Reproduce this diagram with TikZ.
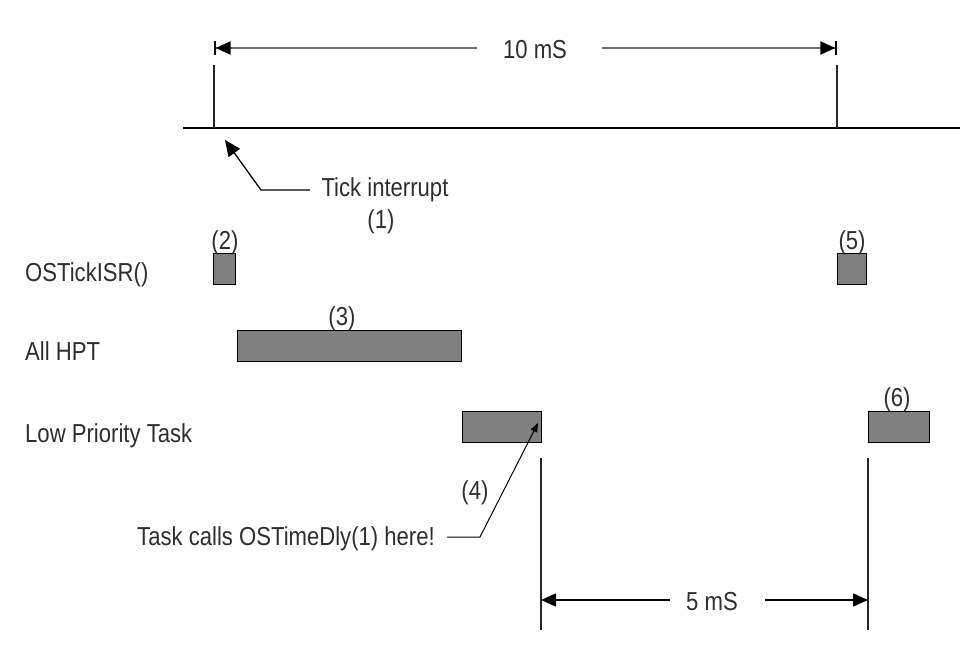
\documentclass[tikz,border=0pt]{standalone}
\usepackage{fontspec}
\setmainfont[FakeStretch=0.85]{Liberation Sans}
\usetikzlibrary{arrows.meta}
\definecolor{txt}{HTML}{2E2E2E}
\definecolor{boxfill}{HTML}{808080}
\definecolor{dimgray}{HTML}{6E6E6E}
\begin{document}
\begin{tikzpicture}[x=1pt,y=-1pt,
  lbl/.style={inner sep=0pt, text=txt, font=\fontsize{26}{30}\selectfont},
  taskbox/.style={draw=black, fill=boxfill, line width=1.4pt, inner sep=0pt, anchor=north west},
  axis/.style={draw=black, line width=1.4pt},
  tickline/.style={draw=black!85, line width=1.4pt},
  topdim/.style={draw=dimgray, line width=2pt, -{Triangle[length=15pt,width=13pt,color=black,fill=black]Bar[width=14pt,line width=1.6pt,color=black]}},
  botdim/.style={draw=black, line width=1.6pt, -{Triangle[length=15pt,width=13pt]}},
  ptr/.style={draw=black, line width=1.3pt, -{Triangle[length=16pt,width=14pt]}},
  smallptr/.style={draw=black, line width=1pt, -{Triangle[length=9pt,width=7pt]}}
]
\useasboundingbox (0,0) rectangle (975,652);
\fill[white] (0,0) rectangle (975,652);

% top time axis
\coordinate (axL) at (183,128);
\coordinate (axR) at (960,128);
\draw[axis] (axL) -- (axR);
\coordinate (tk1top) at (214,65);
\coordinate (tk1bot) at (214,128);
\coordinate (tk2top) at (837,65);
\coordinate (tk2bot) at (837,128);
\draw[tickline] (tk1top) -- (tk1bot);
\draw[tickline] (tk2top) -- (tk2bot);

% 10 mS dimension
\node[lbl] (ten) at (535,50) {10 mS};
\coordinate (tenA) at (214,48);
\coordinate (tenB) at (837,48);
\coordinate (tenLs) at (477,48);
\coordinate (tenRs) at (602,48);
\draw[topdim] (tenLs) -- (tenA);
\draw[topdim] (tenRs) -- (tenB);

% tick interrupt
\node[lbl] (tick) at (385,190) {Tick interrupt};
\node[lbl] (one) at (381,222) {(1)};
\coordinate (tickS) at (310,190);
\coordinate (tickK) at (261,190);
\coordinate (tickA) at (225,140);
\draw[ptr] (tickS) -- (tickK) -- (tickA);

% row labels
\node[lbl, anchor=west] (rowisr) at (25,275) {OSTickISR()};
\node[lbl, anchor=west] (rowhpt) at (25,351) {All HPT};
\node[lbl, anchor=west] (rowlow) at (25,436) {Low Priority Task};

% boxes
\node[taskbox, minimum width=22pt, minimum height=31pt] (b2) at (213,253) {};
\node[taskbox, minimum width=224pt, minimum height=31pt] (b3) at (237,330) {};
\node[taskbox, minimum width=79pt, minimum height=31pt] (b4) at (462,411) {};
\node[taskbox, minimum width=29pt, minimum height=31pt] (b5) at (837,253) {};
\node[taskbox, minimum width=61pt, minimum height=31pt] (b6) at (868,411) {};

% numbers
\node[lbl] (n2) at (225,243) {(2)};
\node[lbl] (n3) at (342,319) {(3)};
\node[lbl] (n5) at (852,243) {(5)};
\node[lbl] (n6) at (897,400) {(6)};
\node[lbl] (n4) at (475,493) {(4)};

% task calls OSTimeDly
\node[lbl] (calls) at (286,539) {Task calls OSTimeDly(1) here!};
\coordinate (callS) at (447,537);
\coordinate (callK) at (480,537);
\coordinate (callA) at (538,423);
\draw[smallptr] (callS) -- (callK) -- (callA);

% 5 mS dimension
\coordinate (v1top) at (541,458);
\coordinate (v1bot) at (541,630);
\coordinate (v2top) at (868,458);
\coordinate (v2bot) at (868,630);
\draw[tickline] (v1top) -- (v1bot);
\draw[tickline] (v2top) -- (v2bot);
\node[lbl] (five) at (712,602) {5 mS};
\coordinate (fiveA) at (541,600);
\coordinate (fiveB) at (868,600);
\coordinate (fiveLs) at (670,600);
\coordinate (fiveRs) at (765,600);
\draw[botdim] (fiveLs) -- (fiveA);
\draw[botdim] (fiveRs) -- (fiveB);
\end{tikzpicture}
\end{document}
